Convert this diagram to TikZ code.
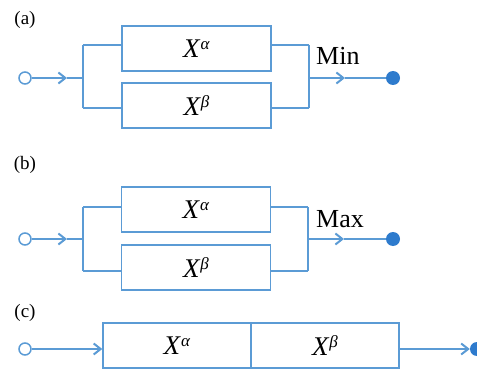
\documentclass[tikz,border=0pt]{standalone}
\usepackage{fontspec}
\setmainfont{Liberation Serif}
\usetikzlibrary{arrows.meta}
\definecolor{ln}{RGB}{91,155,213}
\definecolor{dt}{RGB}{46,123,205}
\newcommand{\xsym}[1]{\textit{X}\raisebox{8pt}{\fontsize{17}{18}\selectfont\textit{#1}}}
\tikzset{
  wire/.style={draw=ln, line width=2pt},
  blk/.style={draw=ln, line width=1.4pt, fill=white, minimum width=149pt, minimum height=45pt, inner sep=0pt, font=\fontsize{27}{29}\selectfont},
  incirc/.style={circle, draw=ln, line width=1.5pt, fill=white, minimum size=12pt, inner sep=0pt},
  outdot/.style={circle, fill=dt, minimum size=14pt, inner sep=0pt},
  tip/.style={-{Straight Barb[length=7pt,width=11pt,line width=2pt]}},
  lab/.style={font=\fontsize{19}{21}\selectfont},
  op/.style={font=\fontsize{26}{28}\selectfont, anchor=south west, inner sep=0pt}
}
\begin{document}
\begin{tikzpicture}[x=1pt,y=-1pt]
\useasboundingbox (0,0) rectangle (477,369);
% ---------- (a)
\node[lab] (la) at (25,20) {(a)};
\node[blk] (a1) at (196.5,48.5) {\xsym{α}};
\node[blk] (a2) at (196.5,105.5) {\xsym{β}};
\node[incirc] (ain) at (25,78) {};
\node[outdot] (aout) at (393,78) {};
\coordinate (asl) at (83,78);
\coordinate (asr) at (309,78);
\coordinate (aa1) at (67,78);
\coordinate (aa2) at (345,78);
\draw[wire] (83,45) -- (83,108);
\draw[wire] (309,45) -- (309,108);
\draw[wire] (83,45) -- (a1.west |- 0,45);
\draw[wire] (83,108) -- (a2.west |- 0,108);
\draw[wire] (a1.east |- 0,45) -- (309,45);
\draw[wire] (a2.east |- 0,108) -- (309,108);
\draw[wire,tip] (ain) -- (aa1);
\draw[wire] (aa1) -- (asl);
\draw[wire,tip] (asr) -- (aa2);
\draw[wire] (aa2) -- (aout);
\node[op] (amin) at (316,65) {Min};
% ---------- (b)
\node[lab] (lb) at (25,165) {(b)};
\node[blk] (b1) at (196,209.5) {\xsym{α}};
\node[blk] (b2) at (196,267.5) {\xsym{β}};
\node[incirc] (bin) at (25,239) {};
\node[outdot] (bout) at (393,239) {};
\coordinate (bsl) at (83,239);
\coordinate (bsr) at (308,239);
\coordinate (ba1) at (67,239);
\coordinate (ba2) at (344,239);
\draw[wire] (83,207) -- (83,271);
\draw[wire] (308,207) -- (308,271);
\draw[wire] (83,207) -- (b1.west |- 0,207);
\draw[wire] (83,271) -- (b2.west |- 0,271);
\draw[wire] (b1.east |- 0,207) -- (308,207);
\draw[wire] (b2.east |- 0,271) -- (308,271);
\draw[wire,tip] (bin) -- (ba1);
\draw[wire] (ba1) -- (bsl);
\draw[wire,tip] (bsr) -- (ba2);
\draw[wire] (ba2) -- (bout);
\node[op] (bmax) at (316,228) {Max};
% ---------- (c)
\node[lab] (lc) at (25,313) {(c)};
\node[blk,minimum width=148pt] (c1) at (177,345.5) {\xsym{α}};
\node[blk,minimum width=148pt] (c2) at (325,345.5) {\xsym{β}};
\node[incirc] (cin) at (25,349) {};
\node[outdot] (cout) at (477,349) {};
\draw[wire,tip] (cin) -- (c1.west |- cin);
\draw[wire,tip] (c2.east |- cout) -- (cout.west);
\end{tikzpicture}
\end{document}
